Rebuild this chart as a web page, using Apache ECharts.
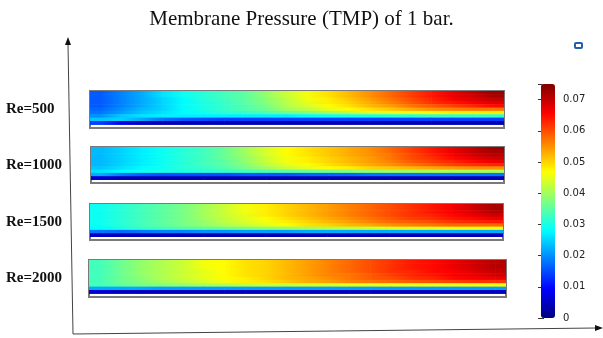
<!DOCTYPE html>
<html>
<head>
<meta charset="utf-8">
<script src="https://cdn.jsdelivr.net/npm/echarts@6/dist/echarts.min.js"></script>
<style>
html,body{margin:0;padding:0;background:#fff;}
#main{width:603px;height:338px;}
</style>
</head>
<body>
<div id="main"></div>
<script>
// 浓度场, 单位 1e-3, 每行从上(主流)到下(膜面), 每列从入口到出口
var re500=[
  [16,19,22,26,29,31,33,35,39,43,46,49,52,55,58,61,64,67,70,73],
  [16,19,22,26,29,31,33,35,39,43,46,49,52,55,58,61,64,67,69,72],
  [16,19,22,25,28,31,33,35,38,42,46,48,51,54,57,60,63,66,68,70],
  [16,19,22,25,28,30,32,35,38,42,45,48,50,53,56,59,62,64,66,68],
  [16,19,22,25,28,30,32,34,37,41,44,47,49,52,54,57,59,61,63,65],
  [17,20,23,25,28,30,32,34,36,40,42,45,47,49,51,53,55,56,57,57],
  [18,21,24,26,28,29,31,32,34,36,38,40,42,44,45,46,47,48,48,48],
  [20,24,26,27,27,27,27,27,27,27,28,29,30,30,31,31,32,32,32,32],
  [24,25,22,18,16,15,14,14,14,14,14,14,14,14,14,14,14,14,14,14],
  [14,8,5,4,4,4,4,4,4,4,4,4,4,4,4,4,4,4,4,4]
];
var re1000=[
  [23,25,27,29,31,33,36,40,44,47,49,51,53,55,58,61,64,67,70,73],
  [23,25,27,29,31,33,36,40,44,47,49,51,53,55,58,61,64,67,70,72],
  [23,25,27,29,31,33,36,40,44,47,49,51,53,55,57,60,63,66,69,71],
  [23,25,27,29,31,33,36,39,43,46,48,50,52,54,57,60,62,65,67,69],
  [23,25,27,29,31,33,35,39,43,46,48,50,52,54,56,59,61,63,65,67],
  [23,25,27,29,31,33,35,38,42,45,47,49,51,53,55,57,59,61,62,63],
  [24,26,28,29,31,32,34,37,40,43,45,47,48,50,51,52,53,54,55,55],
  [26,28,29,30,30,31,32,33,34,35,36,37,38,39,40,40,41,41,41,41],
  [22,18,16,15,15,15,15,16,16,16,17,17,17,18,18,18,18,18,18,18],
  [6,4,4,4,4,4,4,4,4,4,4,4,4,4,4,4,4,4,4,4]
];
var re1500=[
  [29,31,33,35,37,40,43,46,48,50,52,54,56,58,60,62,64,66,69,72],
  [29,31,33,35,37,40,43,46,48,50,52,54,56,58,60,62,64,66,69,72],
  [29,31,33,35,37,40,43,46,48,50,52,54,56,58,60,62,64,66,68,71],
  [29,31,33,35,37,40,43,45,48,50,52,54,56,58,60,62,63,65,67,69],
  [29,31,33,35,37,40,42,45,47,49,51,53,55,57,59,61,62,64,65,67],
  [29,31,33,35,37,39,42,44,46,48,50,52,54,56,58,59,60,62,63,64],
  [29,31,33,35,37,39,41,43,45,47,49,50,52,53,55,56,57,58,58,58],
  [28,30,32,33,34,35,36,37,38,39,40,41,42,43,44,45,45,46,46,46],
  [18,17,18,19,19,20,20,21,21,21,22,22,22,22,22,22,22,22,22,22],
  [5,4,4,4,4,4,4,4,4,4,4,4,4,4,4,4,4,4,4,4]
];
var re2000=[
  [33,36,39,41,43,46,47,49,50,52,54,56,58,60,62,64,65,67,69,71],
  [33,36,39,41,43,46,47,49,50,52,54,56,58,60,62,64,65,67,69,71],
  [33,36,39,41,43,46,47,49,50,52,54,56,58,60,62,64,65,67,69,71],
  [33,36,39,41,43,45,47,49,50,52,54,56,58,60,62,63,65,66,68,70],
  [33,36,39,41,43,45,47,49,50,52,54,56,57,59,61,63,64,66,67,69],
  [33,36,38,41,43,45,47,48,50,52,53,55,57,59,60,62,63,65,66,67],
  [33,36,38,40,42,44,46,48,49,51,53,54,56,57,58,59,60,61,62,62],
  [33,35,37,38,39,40,41,42,43,43,44,44,45,45,46,46,46,46,47,47],
  [22,22,22,21,21,21,21,21,21,21,21,21,21,21,21,21,21,21,21,21],
  [6,5,5,5,5,5,5,5,5,5,5,5,5,5,5,5,5,5,5,5]
];
var reLabels=['Re=500','Re=1000','Re=1500','Re=2000'];
// 色标刻度
var tickValues=[0,10,20,30,40,50,60,70];
var tickLabels=['0','0.01','0.02','0.03','0.04','0.05','0.06','0.07'];
var colorMax=75;

var fields=[re500,re1000,re1500,re2000];
// 每个通道的位置
var boxes=[
  {left:90,top:91,width:414,height:37},
  {left:91,top:147,width:413,height:36},
  {left:90,top:204,width:413,height:36},
  {left:89,top:260,width:417,height:37}
];
var jet=['#00007f','#0000ff','#007fff','#00ffff','#7fff7f','#ffff00','#ff7f00','#ff0000','#7f0000'];

var jetColor=function(v){
  return echarts.color.lerp(Math.max(0,Math.min(1,v/colorMax)),jet);
};

// 每个格子画成到下一格中心的横向渐变, 避免色块
var renderCell=function(params,api){
  var c=api.value(0),r=api.value(1),v=api.value(2),vn=api.value(3),last=api.value(4);
  var p=api.coord([c,r]);
  var s=api.size([1,1]);
  var bw=s[0],bh=s[1];
  var y0=p[1]-bh/2-0.3,h=bh+0.6;
  var children=[];
  if(c<last){
    children.push({type:'rect',shape:{x:p[0]-0.3,y:y0,width:bw+0.6,height:h},
      style:{fill:{type:'linear',x:0,y:0,x2:1,y2:0,colorStops:[
        {offset:0,color:jetColor(v)},{offset:1,color:jetColor(vn)}]}}});
  }
  if(c===0){
    children.push({type:'rect',shape:{x:p[0]-bw/2,y:y0,width:bw/2+0.6,height:h},style:{fill:jetColor(v)}});
  }
  if(c===last){
    children.push({type:'rect',shape:{x:p[0]-0.3,y:y0,width:bw/2+0.3,height:h},style:{fill:jetColor(v)}});
  }
  return {type:'group',children:children};
};

var grids=[],xAxes=[],yAxes=[],series=[],graphics=[];
fields.forEach(function(field,i){
  var cols=[],rows=[],data=[];
  var last=field[0].length-1;
  for(var c=0;c<=last;c++){cols.push(String(c));}
  // 最后一行留空作为膜下白条
  for(var r=0;r<=field.length;r++){rows.push(String(r));}
  field.forEach(function(row,r){
    row.forEach(function(v,c){
      data.push([c,r,v,c<last?row[c+1]:v,last]);
    });
  });
  grids.push({
    left:boxes[i].left,top:boxes[i].top,width:boxes[i].width,height:boxes[i].height,
    show:true,borderColor:'#7a7a7a',borderWidth:2,backgroundColor:'#fff'
  });
  xAxes.push({type:'category',gridIndex:i,data:cols,show:false});
  yAxes.push({type:'category',gridIndex:i,data:rows,inverse:true,show:false});
  series.push({
    type:'custom',xAxisIndex:i,yAxisIndex:i,data:data,renderItem:renderCell,
    silent:true,clip:true
  });
  graphics.push({
    type:'text',x:6,y:boxes[i].top+boxes[i].height/2,
    style:{text:reLabels[i],font:'bold 15px "Liberation Serif"',fill:'#111',verticalAlign:'middle'}
  });
});

// 色标坐标轴
grids.push({left:541,top:84,width:14,height:234,show:false});
xAxes.push({type:'value',gridIndex:4,show:false});
yAxes.push({
  type:'value',gridIndex:4,position:'right',min:0,max:colorMax,interval:10,
  axisLine:{show:false},splitLine:{show:false},
  axisTick:{show:true,inside:true,length:3,lineStyle:{color:'#333'}},
  axisLabel:{
    margin:8,color:'#222',fontSize:10,fontFamily:'DejaVu Sans',
    formatter:function(v){var k=tickValues.indexOf(v);return k<0?'':tickLabels[k];}
  }
});
yAxes.push({
  type:'value',gridIndex:4,position:'left',min:0,max:colorMax,interval:10,
  axisLine:{show:false},splitLine:{show:false},axisLabel:{show:false},
  axisTick:{show:true,inside:true,length:3,lineStyle:{color:'#333'}}
});

// 坐标箭头
graphics.push(
  {type:'line',shape:{x1:73,y1:334,x2:68,y2:44},style:{stroke:'#444',lineWidth:1},z:10},
  {type:'polygon',shape:{points:[[68,37],[65,45],[71,45]]},style:{fill:'#111'},z:10},
  {type:'line',shape:{x1:73,y1:334,x2:596,y2:328},style:{stroke:'#444',lineWidth:1},z:10},
  {type:'polygon',shape:{points:[[603,328],[595,325],[595,331]]},style:{fill:'#111'},z:10},
  {type:'rect',shape:{x:575,y:43,width:7,height:5,r:1},style:{fill:'#fff',stroke:'#1f5fae',lineWidth:2},z:10}
);

var chart=echarts.init(document.getElementById('main'));
chart.setOption({
  animation:false,
  backgroundColor:'#fff',
  title:{
    text:'Membrane Pressure (TMP) of 1 bar.',left:'center',top:4,
    textStyle:{fontFamily:'Liberation Serif',fontWeight:'normal',fontSize:21,color:'#111'}
  },
  grid:grids,
  xAxis:xAxes,
  yAxis:yAxes,
  visualMap:{
    type:'continuous',min:0,max:colorMax,calculable:false,realtime:false,
    seriesIndex:[0,1,2,3],dimension:2,
    left:541,top:84,itemWidth:14,itemHeight:234,padding:0,
    text:['',''],textGap:0,
    inRange:{color:jet}
  },
  series:series,
  graphic:graphics
});
</script>
</body>
</html>
